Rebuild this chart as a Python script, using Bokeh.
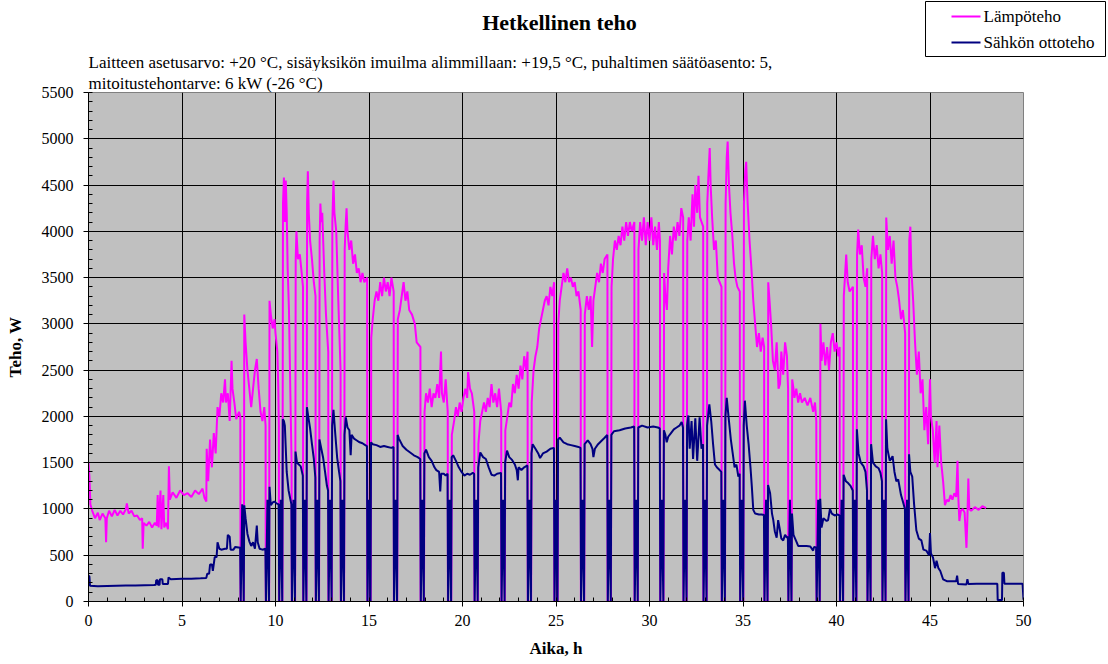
from bokeh.plotting import figure
from bokeh.models import Range1d, SingleIntervalTicker, Title
from bokeh.layouts import column
from bokeh.core.properties import value
from bokeh.embed import file_html
from bokeh.resources import INLINE

# ---- data (hours, W) ----
heat_points = [
    (0.00,1500),(0.05,1350),(0.10,1050),(0.20,980),(0.35,900),(0.50,960),(0.60,880),(0.75,950),(0.90,900),(0.94,640),(0.98,900),
    (1.10,980),(1.25,920),(1.40,990),(1.55,930),(1.70,980),(1.85,940),(2.00,1000),(2.05,1060),(2.15,950),(2.30,980),(2.45,920),
    (2.60,930),(2.75,880),(2.87,900),(2.90,570),(2.95,850),(3.10,820),(3.25,860),(3.40,800),(3.55,850),(3.65,820),(3.70,1150),
    (3.75,800),(3.85,1200),(3.90,780),(4.00,1150),(4.05,800),(4.15,850),(4.25,780),(4.30,1460),(4.35,1100),(4.50,1180),(4.70,1120),
    (4.90,1200),(5.10,1150),(5.30,1170),(5.50,1130),(5.70,1200),(5.90,1160),(6.10,1220),(6.20,1120),(6.30,1080),(6.32,1650),
    (6.40,1300),(6.50,1750),(6.60,1450),(6.70,1820),(6.80,1600),(6.90,2100),(7.00,2000),(7.10,2250),(7.20,2150),(7.30,2400),
    (7.35,2150),(7.45,2250),(7.55,1950),(7.65,2600),(7.70,2300),(7.80,2150),(7.90,1970),(8.05,2050),(8.12,2000),
    (8.13,0),(8.31,0),(8.33,3100),(8.40,2800),(8.50,2500),(8.60,2300),(8.70,2100),(8.80,2300),(8.90,2500),(9.00,2620),(9.10,2300),
    (9.20,2050),(9.30,1950),(9.40,2100),(9.47,1900),
    (9.48,0),(9.66,0),(9.68,3250),(9.75,3100),(9.85,2950),(9.95,3050),(10.00,2900),(10.10,2700),(10.15,2300),(10.18,1900),
    (10.19,0),(10.37,0),(10.40,4300),(10.45,4580),(10.50,4100),(10.55,4550),(10.60,4200),(10.65,3600),(10.72,3150),(10.80,2200),(10.86,1500),
    (10.87,0),(11.05,0),(11.08,3700),(11.12,4000),(11.20,3700),(11.30,3750),(11.40,3550),(11.47,3400),
    (11.48,0),(11.66,0),(11.69,4300),(11.73,4650),(11.78,4200),(11.85,3900),(11.95,3700),(12.05,3450),(12.14,3300),
    (12.15,0),(12.33,0),(12.36,3900),(12.40,4300),(12.45,4100),(12.50,4200),(12.60,3600),(12.70,3100),(12.82,2700),
    (12.83,0),(13.01,0),(13.04,4100),(13.10,4550),(13.15,4200),(13.25,4000),(13.35,3300),(13.48,2500),
    (13.49,0),(13.67,0),(13.70,3800),(13.75,4060),(13.80,4250),(13.85,4000),(13.95,3800),(14.05,3900),(14.15,3650),(14.25,3750),
    (14.35,3550),(14.45,3600),(14.55,3450),(14.65,3550),(14.75,3450),(14.90,3500),
    (14.91,0),(15.09,0),(15.12,2850),(15.20,3050),(15.30,3250),(15.40,3350),(15.50,3250),(15.60,3450),(15.70,3300),(15.80,3500),
    (15.90,3350),(16.00,3450),(16.10,3300),(16.20,3500),(16.32,3350),
    (16.33,0),(16.51,0),(16.54,3050),(16.65,3150),(16.75,3300),(16.85,3450),(16.95,3250),(17.05,3350),(17.15,3150),(17.30,3100),
    (17.45,3000),(17.55,2800),(17.75,2750),
    (17.76,0),(17.94,0),(17.97,2050),(18.05,2250),(18.15,2150),(18.25,2300),(18.35,2100),(18.45,2250),(18.55,2200),(18.65,2350),
    (18.75,2200),(18.85,2700),(18.90,2250),(19.00,2150),(19.10,2400),(19.21,2050),
    (19.22,0),(19.40,0),(19.43,1800),(19.55,1950),(19.65,2100),(19.75,2000),(19.85,2150),(19.95,2050),(20.05,2200),(20.15,2300),
    (20.25,2200),(20.30,2480),(20.40,2300),(20.50,2250),(20.63,2050),
    (20.64,0),(20.82,0),(20.85,1700),(20.95,1950),(21.05,2050),(21.15,2150),(21.25,2050),(21.35,2200),(21.45,2100),(21.55,2350),
    (21.65,2150),(21.75,2250),(21.85,2100),(21.95,2300),(22.07,2050),
    (22.08,0),(22.26,0),(22.29,1850),(22.40,2000),(22.50,2150),(22.60,2100),(22.70,2350),(22.80,2250),(22.90,2450),(23.00,2300),
    (23.10,2550),(23.20,2400),(23.30,2650),(23.40,2500),(23.48,2700),
    (23.49,0),(23.67,0),(23.70,2150),(23.80,2500),(23.90,2650),(24.00,2750),(24.10,2950),(24.20,3050),(24.30,3150),(24.40,3250),
    (24.50,3300),(24.60,3200),(24.70,3400),(24.80,3300),(24.90,3450),
    (24.91,0),(25.09,0),(25.12,3000),(25.20,3250),(25.30,3400),(25.40,3550),(25.50,3450),(25.60,3600),(25.70,3450),(25.80,3500),
    (25.90,3400),(26.00,3450),(26.10,3300),(26.20,3350),(26.32,3150),
    (26.33,0),(26.51,0),(26.54,3100),(26.65,3300),(26.75,3150),(26.85,3300),(26.93,2750),(27.00,3250),(27.10,3400),(27.20,3550),
    (27.30,3450),(27.40,3650),(27.50,3550),(27.60,3700),(27.75,3750),
    (27.76,0),(27.94,0),(27.97,3400),(28.05,3700),(28.15,3900),(28.25,3800),(28.35,3950),(28.45,3850),(28.55,4050),(28.65,3900),
    (28.75,4100),(28.85,3950),(28.95,4100),(29.05,4000),(29.19,4100),
    (29.20,0),(29.38,0),(29.41,3800),(29.50,4100),(29.60,3900),(29.70,4150),(29.80,3850),(29.90,4100),(30.00,3900),(30.10,4150),
    (30.20,3850),(30.30,4050),(30.40,3800),(30.50,4100),(30.56,3900),
    (30.57,0),(30.75,0),(30.78,3550),(30.85,3300),(30.93,3150),(31.00,3600),(31.10,3950),(31.20,3750),(31.30,4050),(31.40,3900),
    (31.50,4100),(31.60,3950),(31.70,4250),(31.80,4150),
    (31.81,0),(31.99,0),(32.02,3900),(32.10,4150),(32.20,3900),(32.30,4400),(32.38,4050),(32.45,4500),(32.55,4200),(32.62,4600),
    (32.70,4150),(32.87,4050),
    (32.88,0),(33.06,0),(33.09,4300),(33.15,4600),(33.22,4900),(33.27,4500),(33.35,4150),(33.45,3800),(33.55,3900),(33.65,3500),
    (33.75,3450),(33.85,3400),
    (33.86,0),(34.04,0),(34.07,4300),(34.13,4800),(34.18,4970),(34.25,4500),(34.33,4200),(34.43,3950),(34.52,3650),(34.60,3500),
    (34.70,3400),(34.83,3350),
    (34.84,0),(35.02,0),(35.05,4300),(35.12,4650),(35.17,4750),(35.25,4300),(35.35,3900),(35.45,3600),(35.55,3250),(35.65,3000),
    (35.75,2750),(35.85,2900),(35.95,2700),(36.05,2850),(36.13,2750),
    (36.14,0),(36.32,0),(36.35,3450),(36.42,3250),(36.50,3000),(36.60,2600),(36.70,2500),(36.80,2800),(36.90,2300),(36.98,2350),
    (37.05,2700),(37.15,2450),(37.25,2800),(37.35,2650),(37.41,2300),
    (37.42,0),(37.60,0),(37.63,2400),(37.70,2300),(37.75,2200),(37.85,2300),(37.95,2150),(38.05,2250),(38.15,2150),(38.30,2200),
    (38.45,2120),(38.60,2200),(38.75,2050),(38.85,2150),(38.92,1950),
    (38.93,0),(39.11,0),(39.14,3000),(39.20,2600),(39.30,2800),(39.40,2550),(39.50,2750),(39.60,2500),(39.70,2800),(39.80,2900),
    (39.90,2700),(40.00,2800),(40.10,2650),(40.17,2750),
    (40.18,0),(40.36,0),(40.39,3300),(40.45,3500),(40.52,3750),(40.60,3450),(40.70,3350),(40.88,3400),
    (40.89,0),(41.07,0),(41.10,3750),(41.16,4020),(41.25,3750),(41.35,3850),(41.45,3500),(41.55,3400),(41.64,3600),
    (41.65,0),(41.83,0),(41.86,3700),(41.95,3950),(42.05,3700),(42.15,3850),(42.25,3600),(42.35,3750),(42.44,3550),
    (42.45,0),(42.63,0),(42.66,4150),(42.75,3800),(42.85,3950),(42.95,3650),(43.05,3900),(43.15,3500),(43.25,3400),(43.35,3250),
    (43.45,3050),(43.55,3150),(43.67,2900),
    (43.68,0),(43.86,0),(43.89,3900),(43.95,4050),(44.00,3600),(44.10,3250),(44.20,2800),(44.30,2450),(44.40,2700),(44.50,2250),
    (44.60,2400),(44.70,1850),(44.80,2100),(44.90,1700),(45.00,2400),(45.05,2000),(45.15,1850),(45.25,1500),(45.35,1950),
    (45.40,1450),(45.50,1900),(45.60,1500),(45.70,1300),(45.80,1040),(45.90,1100),(46.00,1080),(46.10,1150),(46.20,1100),
    (46.30,1170),(46.40,1130),(46.47,1520),(46.52,1100),(46.57,870),(46.65,980),(46.75,1000),(46.85,960),(46.95,580),(47.00,900),
    (47.05,1330),(47.10,1000),(47.20,980),(47.40,1020),(47.60,990),(47.80,1030),(48.00,1010),
]

elec_points = [
    (0.00,280),(0.05,270),(0.08,170),(0.50,165),(1.00,168),(1.50,170),(2.00,172),(2.50,172),(3.00,175),(3.50,178),(3.60,180),
    (3.62,230),(3.70,230),(3.72,180),(3.80,180),(3.82,240),(3.95,240),(3.97,190),(4.25,190),(4.28,260),(4.40,240),(5.00,245),
    (5.50,245),(6.00,250),(6.30,255),(6.35,300),(6.45,300),(6.50,400),(6.60,400),(6.65,330),(6.75,480),(6.85,480),(6.90,640),
    (7.00,570),(7.10,560),(7.30,570),(7.40,570),(7.45,720),(7.55,700),(7.60,560),(7.75,560),(7.85,590),(8.11,580),
    (8.14,0),(8.22,1050),(8.30,0),(8.33,1040),(8.40,900),(8.50,730),(8.60,650),(8.70,600),(8.80,640),(8.90,570),(9.00,820),
    (9.05,640),(9.15,570),(9.30,560),(9.46,570),
    (9.49,0),(9.57,1100),(9.65,0),(9.68,1240),(9.75,1040),(9.85,1070),(9.95,1080),(10.05,1060),(10.17,1050),
    (10.20,0),(10.28,1100),(10.36,0),(10.39,1970),(10.45,1950),(10.50,1900),(10.60,1400),(10.70,1200),(10.85,1050),
    (10.88,0),(10.96,1100),(11.04,0),(11.07,1620),(11.15,1500),(11.25,1480),(11.35,1460),(11.46,1360),
    (11.49,0),(11.57,1100),(11.65,0),(11.68,2100),(11.75,2000),(11.85,1870),(11.95,1700),(12.05,1540),(12.13,1340),
    (12.16,0),(12.24,1100),(12.32,0),(12.35,1750),(12.45,1650),(12.55,1550),(12.65,1400),(12.75,1250),(12.81,1200),
    (12.84,0),(12.92,1100),(13.00,0),(13.03,1900),(13.10,2070),(13.20,1800),(13.30,1550),(13.40,1400),(13.47,1300),
    (13.50,0),(13.58,1100),(13.66,0),(13.69,1800),(13.76,1990),(13.85,1880),(13.95,1850),(14.02,1580),(14.07,1800),(14.20,1760),
    (14.35,1740),(14.50,1720),(14.65,1710),(14.80,1690),(14.89,1680),
    (14.92,0),(15.00,1100),(15.08,0),(15.11,1720),(15.20,1700),(15.40,1690),(15.60,1670),(15.80,1680),(16.00,1670),(16.20,1660),(16.31,1670),
    (16.34,0),(16.42,1100),(16.50,0),(16.53,1800),(16.60,1760),(16.80,1680),(17.00,1640),(17.20,1610),(17.40,1580),(17.60,1560),(17.74,1540),
    (17.77,0),(17.85,1100),(17.93,0),(17.96,1600),(18.05,1640),(18.20,1560),(18.35,1520),(18.50,1450),(18.60,1420),(18.75,1400),
    (18.81,1190),(18.86,1380),(19.00,1380),(19.10,1360),(19.20,1380),
    (19.23,0),(19.31,1100),(19.39,0),(19.42,1560),(19.50,1580),(19.65,1520),(19.80,1450),(19.95,1400),(20.10,1360),(20.25,1380),
    (20.40,1370),(20.55,1390),(20.62,1380),
    (20.65,0),(20.73,1100),(20.81,0),(20.84,1450),(20.95,1610),(21.10,1560),(21.25,1540),(21.40,1450),(21.55,1370),(21.70,1360),
    (21.85,1380),(22.06,1390),
    (22.09,0),(22.17,1100),(22.25,0),(22.28,1500),(22.38,1630),(22.50,1560),(22.65,1530),(22.80,1480),(22.90,1420),(22.96,1310),
    (23.00,1450),(23.15,1420),(23.30,1450),(23.47,1470),
    (23.50,0),(23.58,1100),(23.66,0),(23.69,1600),(23.75,1700),(23.90,1650),(24.05,1600),(24.15,1550),(24.30,1600),(24.50,1620),
    (24.70,1650),(24.89,1660),
    (24.92,0),(25.00,1100),(25.08,0),(25.11,1750),(25.20,1770),(25.40,1720),(25.60,1700),(25.80,1690),(26.00,1680),(26.20,1670),(26.31,1660),
    (26.34,0),(26.42,1100),(26.50,0),(26.53,1700),(26.70,1740),(26.85,1700),(26.95,1650),(27.00,1560),(27.08,1650),(27.25,1700),
    (27.45,1740),(27.60,1770),(27.74,1800),
    (27.77,0),(27.85,1100),(27.93,0),(27.96,1800),(28.10,1840),(28.40,1850),(28.70,1870),(29.00,1880),(29.18,1890),
    (29.21,0),(29.29,1100),(29.37,0),(29.40,1880),(29.60,1900),(29.90,1880),(30.20,1890),(30.45,1880),(30.55,1870),
    (30.58,0),(30.66,1100),(30.74,0),(30.77,1850),(30.85,1800),(30.92,1720),(31.00,1780),(31.15,1820),(31.30,1860),(31.45,1880),
    (31.60,1900),(31.72,1940),(31.79,1880),
    (31.82,0),(31.90,1100),(31.98,0),(32.01,1900),(32.08,2010),(32.15,1650),(32.25,1950),(32.33,1540),(32.45,1980),(32.55,1520),
    (32.68,1990),(32.78,1650),(32.86,1700),
    (32.89,0),(32.97,1100),(33.05,0),(33.08,1900),(33.20,2130),(33.30,1950),(33.40,1700),(33.50,1480),(33.60,1450),(33.75,1420),(33.84,1400),
    (33.87,0),(33.95,1100),(34.03,0),(34.06,2000),(34.13,2200),(34.25,1950),(34.35,1750),(34.45,1600),(34.55,1450),(34.65,1480),
    (34.75,1350),(34.82,1380),
    (34.85,0),(34.93,1100),(35.01,0),(35.04,1900),(35.10,2170),(35.20,1900),(35.30,1700),(35.40,1450),(35.47,1250),(35.55,990),
    (35.65,950),(35.85,940),(36.00,940),(36.12,935),
    (36.15,0),(36.23,1100),(36.31,0),(36.34,1260),(36.45,1170),(36.55,950),(36.62,880),(36.70,760),(36.80,690),(36.88,880),
    (36.95,800),(37.05,680),(37.15,660),(37.25,720),(37.35,690),(37.40,700),
    (37.43,0),(37.51,1100),(37.59,0),(37.62,950),(37.70,720),(37.85,650),(37.95,600),(38.20,600),(38.40,600),(38.60,595),
    (38.75,550),(38.80,590),(38.91,585),
    (38.94,0),(39.02,1100),(39.10,0),(39.13,1110),(39.20,800),(39.30,900),(39.47,870),(39.55,880),(39.65,1000),(39.75,950),
    (39.90,930),(40.05,940),(40.16,930),
    (40.19,0),(40.27,1100),(40.35,0),(40.38,1370),(40.50,1300),(40.62,1280),(40.75,1250),(40.87,1200),
    (40.90,0),(40.98,1100),(41.06,0),(41.09,1860),(41.18,1600),(41.30,1500),(41.45,1460),(41.55,1400),(41.63,1200),
    (41.66,0),(41.74,1100),(41.82,0),(41.85,1700),(41.95,1500),(42.10,1460),(42.25,1440),(42.35,1390),(42.43,1300),
    (42.46,0),(42.54,1100),(42.62,0),(42.65,1970),(42.72,1650),(42.85,1520),(43.00,1570),(43.10,1400),(43.20,1300),(43.30,1320),
    (43.45,1150),(43.55,1080),(43.66,1000),
    (43.69,0),(43.77,1100),(43.85,0),(43.88,1590),(43.95,1400),(44.05,1350),(44.15,1050),(44.27,770),(44.40,680),(44.54,660),
    (44.65,560),(44.80,550),(44.95,500),(45.00,740),(45.05,520),(45.16,475),(45.27,360),(45.35,440),(45.45,360),(45.55,330),
    (45.70,240),(45.90,220),(46.40,220),(46.45,280),(46.50,190),(46.95,185),(47.00,240),(47.05,190),(47.50,192),(48.00,192),
    (48.60,192),(48.62,15),(48.85,15),(48.87,310),(48.95,310),(48.98,192),(49.95,192),(50.00,20),
]

heat_t = [a for a, b in heat_points]
heat_w = [b for a, b in heat_points]
elec_t = [a for a, b in elec_points]
elec_w = [b for a, b in elec_points]

series_names = ["Lämpöteho", "Sähkön ottoteho"]
series_colors = ["#FF00FF", "#000080"]
title_text = "Hetkellinen teho"
subtitle_lines = [
    "Laitteen asetusarvo: +20 °C, sisäyksikön imuilma alimmillaan: +19,5 °C, puhaltimen säätöasento: 5,",
    "mitoitustehontarve: 6 kW (-26 °C)",
]
x_label = "Aika, h"
y_label = "Teho, W"

FONT = "Liberation Serif"
W = 1106
HEAD_H = 71

# ---------- header: title, first subtitle line and legend (pixel coordinates, y downwards) ----------
head = figure(width=W, height=HEAD_H, x_range=Range1d(0, W), y_range=Range1d(HEAD_H, 0),
              output_backend="svg", toolbar_location=None,
              x_axis_location=None, y_axis_location=None, min_border=0)
head.frame_align = False
head.grid.visible = False
head.outline_line_color = None
head.background_fill_color = "white"
head.border_fill_color = "white"

head.text(x=[559], y=[22], text=[title_text], text_font=value(FONT), text_font_size="22px",
          text_font_style="bold", text_align="center", text_baseline="middle", text_color="black")
head.text(x=[88], y=[62], text=[subtitle_lines[0]], text_font=value(FONT), text_font_size="17px",
          text_align="left", text_baseline="middle", text_color="black")

head.quad(left=[925], right=[1105], top=[1], bottom=[56], fill_color="white", line_color="black", line_width=1)
head.segment(x0=[951, 951], y0=[16, 42], x1=[980, 980], y1=[16, 42], line_color=series_colors, line_width=2)
head.text(x=[983, 983], y=[16, 42], text=series_names, text_font=value(FONT), text_font_size="17px",
          text_align="left", text_baseline="middle", text_color="black")

# ---------- main chart ----------
p = figure(width=W, height=590, x_range=Range1d(0, 50), y_range=Range1d(0, 5500),
           output_backend="svg", toolbar_location=None,
           min_border_left=88, min_border_right=W - 1023, min_border_top=21, min_border_bottom=60)
p.frame_align = False

p.add_layout(Title(text=subtitle_lines[1], align="left", text_font=FONT, text_font_size="17px",
                   text_font_style="normal", text_color="black", standoff=0, offset=0), "above")

p.background_fill_color = "#C0C0C0"
p.border_fill_color = "white"
p.outline_line_color = "#808080"
p.outline_line_width = 1

p.xaxis.ticker = SingleIntervalTicker(interval=5, num_minor_ticks=5)
p.yaxis.ticker = SingleIntervalTicker(interval=500, num_minor_ticks=5)
for g in (p.xgrid, p.ygrid):
    g.grid_line_color = "black"
    g.grid_line_alpha = 1.0
    g.grid_line_width = 1

for ax in (p.xaxis, p.yaxis):
    ax.axis_line_color = "black"
    ax.major_tick_line_color = "black"
    ax.minor_tick_line_color = "black"
    ax.major_tick_out = 5
    ax.major_tick_in = 0
    ax.minor_tick_in = 4
    ax.minor_tick_out = 0
    ax.major_label_text_font = FONT
    ax.major_label_text_font_size = "16px"
    ax.major_label_text_color = "black"
    ax.axis_label_text_font = FONT
    ax.axis_label_text_font_size = "17px"
    ax.axis_label_text_font_style = "bold"
    ax.axis_label_text_color = "black"

p.xaxis.axis_label = x_label
p.yaxis.axis_label = y_label
p.xaxis.major_label_standoff = 8
p.xaxis.axis_label_standoff = 10
p.yaxis.major_label_standoff = 10
p.yaxis.axis_label_standoff = 14

p.line(heat_t, heat_w, line_color=series_colors[0], line_width=2)
p.line(elec_t, elec_w, line_color=series_colors[1], line_width=2)

layout = column(head, p, spacing=0)
open("out.html", "w").write(file_html(layout, INLINE))
